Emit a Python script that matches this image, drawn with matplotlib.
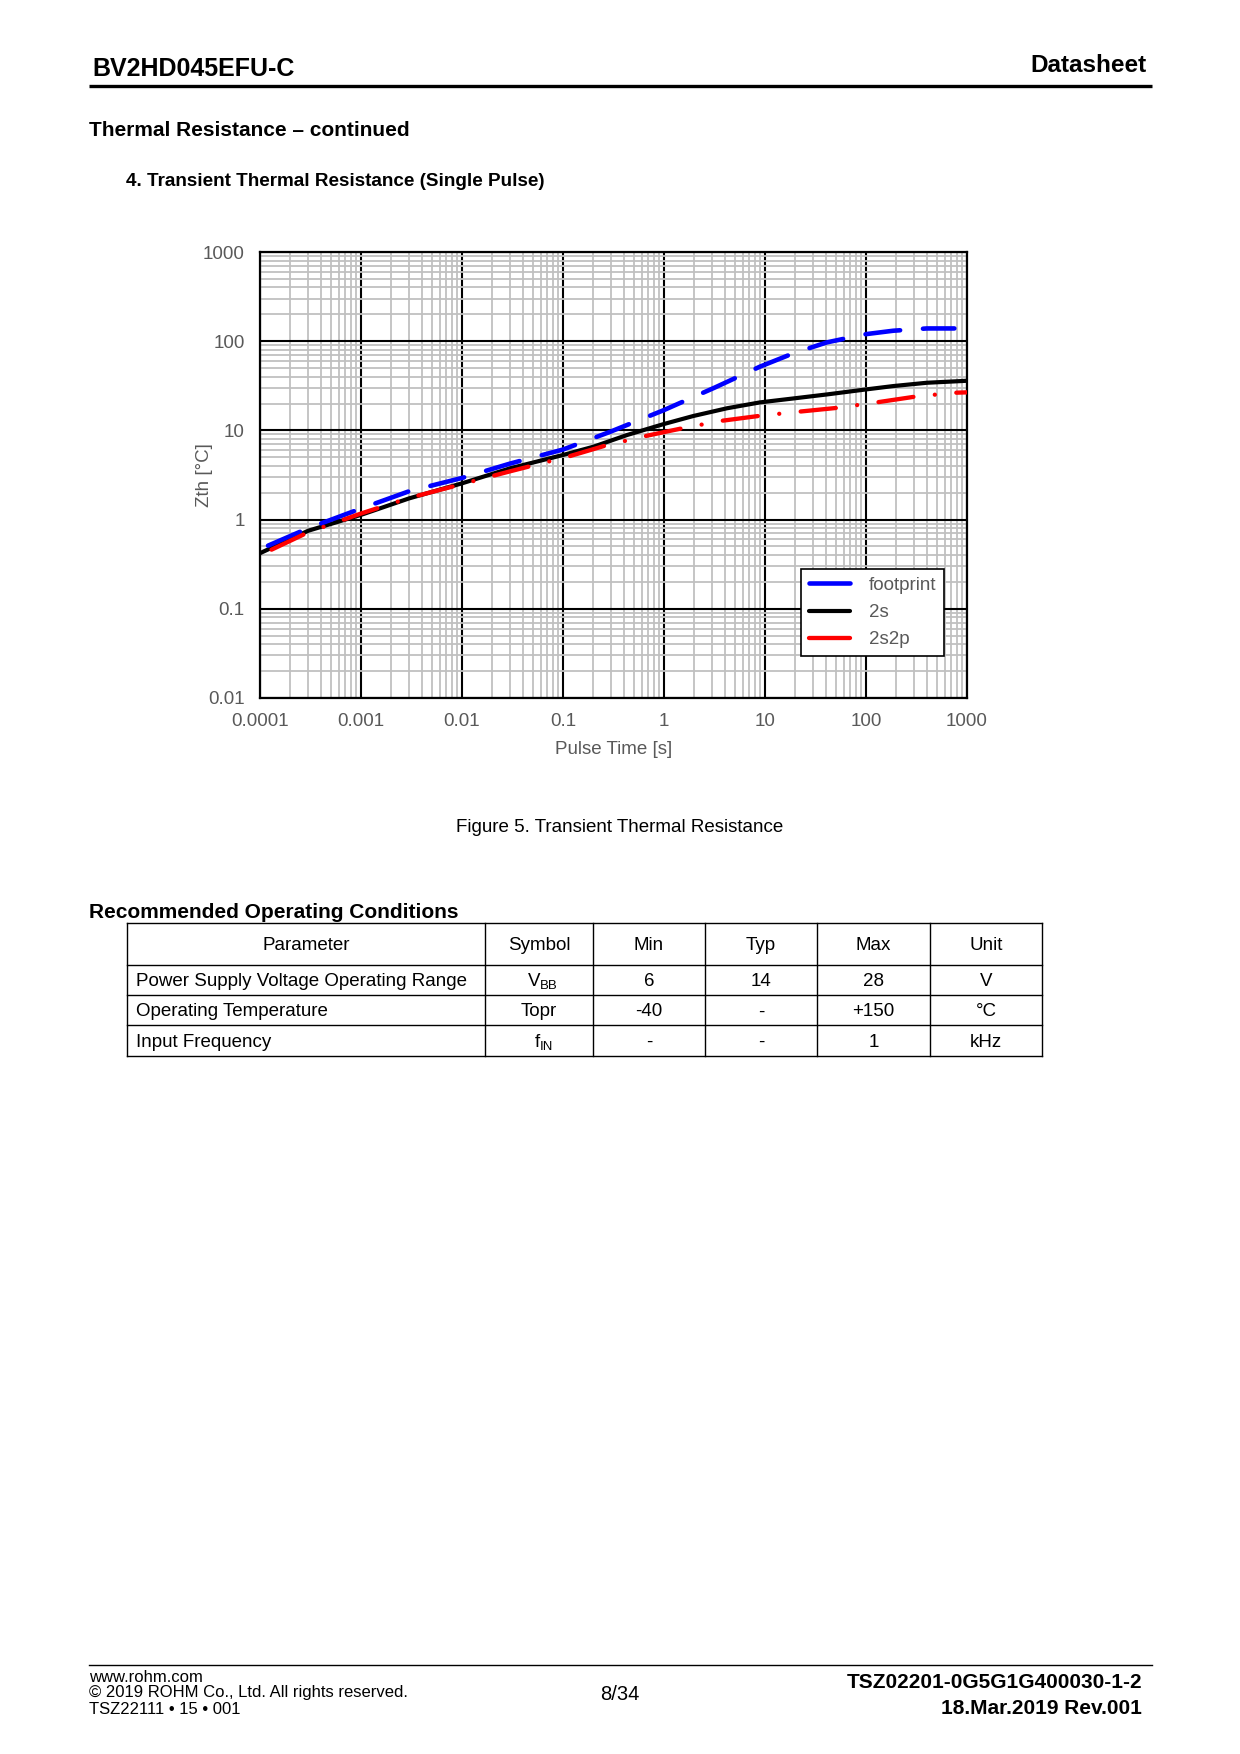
import numpy as np
import matplotlib.pyplot as plt
from matplotlib.lines import Line2D
from matplotlib.ticker import FixedLocator, LogLocator, NullFormatter

plt.rcParams['font.family'] = ['Liberation Sans', 'DejaVu Sans']

# --- chart data ---
t_2s = [1e-4, 3e-4, 1e-3, 3e-3, 1e-2, 3e-2, 0.1, 0.2, 0.43, 1, 1.95, 4.2, 8.9, 19, 41,
        100, 186, 400, 1000]
z_2s = [0.42, 0.75, 1.13, 1.73, 2.55, 3.76, 5.3, 6.56, 8.87, 11.8, 14.5, 17.7, 20.6, 22.8,
        25.3, 28.8, 31.4, 34.2, 36.0]

t_fp = [1.2e-4, 3e-4, 1e-3, 3e-3, 1e-2, 3e-2, 0.1, 0.29, 1, 3.2, 8.9, 19, 41, 100, 186,
        400, 750]
z_fp = [0.51, 0.80, 1.33, 2.08, 2.93, 4.25, 6.1, 9.6, 16.9, 30.3, 51.8, 73, 97, 120, 131,
        139, 139]

t_2s2p = [1.3e-4, 3e-4, 1e-3, 3e-3, 1e-2, 3e-2, 0.117, 0.26, 0.65, 1.48, 3.7, 8.6, 21.5,
          52, 127, 299, 735, 1000]
z_2s2p = [0.46, 0.72, 1.17, 1.75, 2.5, 3.48, 5.15, 6.73, 8.63, 10.5, 12.8, 14.5, 16.2,
          17.9, 20.6, 23.8, 26.4, 26.7]

x_ticks = [1e-4, 1e-3, 1e-2, 1e-1, 1, 10, 100, 1000]
x_labels = ['0.0001', '0.001', '0.01', '0.1', '1', '10', '100', '1000']
y_ticks = [0.01, 0.1, 1, 10, 100, 1000]
y_labels = ['0.01', '0.1', '1', '10', '100', '1000']

# --- table data ---
tbl_header = ['Parameter', 'Symbol', 'Min', 'Typ', 'Max', 'Unit']
tbl_param = ['Power Supply Voltage Operating Range', 'Operating Temperature', 'Input Frequency']
tbl_symbol = [('V', 'BB'), ('Topr', ''), ('f', 'IN')]
tbl_min = ['6', '-40', '-']
tbl_typ = ['14', '-', '-']
tbl_max = ['28', '+150', '1']
tbl_unit = ['V', '°C', 'kHz']

W, H = 1240, 1754
fig = plt.figure(figsize=(W / 100, H / 100), dpi=100)
fig.patch.set_facecolor('white')

# page layer in pixel coords
page = fig.add_axes([0, 0, 1, 1], zorder=0)
page.set_xlim(0, W)
page.set_ylim(H, 0)
page.axis('off')

page.text(92, 69, 'BV2HD045EFU-C', fontsize=18, fontweight='bold', va='center', ha='left')
page.text(1147, 66, 'Datasheet', fontsize=17.5, fontweight='bold', va='center', ha='right')
page.plot([89, 1152], [86, 86], color='black', lw=2.4, solid_capstyle='butt')

page.text(89, 131, 'Thermal Resistance – continued', fontsize=15, fontweight='bold', va='center')
page.text(126, 182, '4. Transient Thermal Resistance (Single Pulse)', fontsize=13.6,
          fontweight='bold', va='center')
page.text(620, 827, 'Figure 5. Transient Thermal Resistance', fontsize=13.5, va='center', ha='center')

# recommended operating conditions table
page.text(89, 912, 'Recommended Operating Conditions', fontsize=15, fontweight='bold', va='center')
col_x = [127, 485, 593, 705, 817, 930, 1042]
row_y = [923, 965, 995, 1025, 1056]
for x in col_x:
    page.plot([x, x], [row_y[0], row_y[-1]], color='black', lw=1.0)
for y in row_y:
    page.plot([col_x[0], col_x[-1]], [y, y], color='black', lw=1.0)

fs_tbl = 13.5
dy = 2
for j, h in enumerate(tbl_header):
    cx = (col_x[j] + col_x[j + 1]) / 2
    page.text(cx, (row_y[0] + row_y[1]) / 2 + dy, h, fontsize=fs_tbl, ha='center', va='center')

for i in range(len(tbl_param)):
    cy = (row_y[i + 1] + row_y[i + 2]) / 2 + dy
    page.text(col_x[0] + 9, cy, tbl_param[i], fontsize=fs_tbl, ha='left', va='center')
    main, sub = tbl_symbol[i]
    cx = (col_x[1] + col_x[2]) / 2
    if sub:
        page.text(cx + 1, cy, main, fontsize=fs_tbl, ha='right', va='center')
        page.text(cx + 1, cy + 4, sub, fontsize=9.5, ha='left', va='center')
    else:
        page.text(cx, cy, main, fontsize=fs_tbl, ha='center', va='center')
    for j, vals in enumerate([tbl_min, tbl_typ, tbl_max, tbl_unit]):
        cx = (col_x[j + 2] + col_x[j + 3]) / 2
        page.text(cx, cy, vals[i], fontsize=fs_tbl, ha='center', va='center')

# footer
page.plot([89, 1152], [1665, 1665], color='black', lw=1.0)
page.text(89, 1677, 'www.rohm.com', fontsize=12, va='center')
page.text(89, 1692, '© 2019 ROHM Co., Ltd. All rights reserved.', fontsize=12, va='center')
page.text(89, 1709, 'TSZ22111 • 15 • 001', fontsize=12, va='center')
page.text(620, 1695, '8/34', fontsize=14.5, ha='center', va='center')
page.text(1142, 1683, 'TSZ02201-0G5G1G400030-1-2', fontsize=15, fontweight='bold', ha='right', va='center')
page.text(1142, 1709, '18.Mar.2019 Rev.001', fontsize=15, fontweight='bold', ha='right', va='center')

# --- chart ---
ax = fig.add_axes([260 / W, 1 - 698 / H, 707 / W, 446 / H], zorder=1)
ax.set_xscale('log')
ax.set_yscale('log')
ax.set_xlim(1e-4, 1e3)
ax.set_ylim(1e-2, 1e3)

ax.xaxis.set_minor_locator(LogLocator(base=10, subs=np.arange(2, 10)))
ax.yaxis.set_minor_locator(LogLocator(base=10, subs=np.arange(2, 10)))
ax.xaxis.set_minor_formatter(NullFormatter())
ax.yaxis.set_minor_formatter(NullFormatter())
ax.xaxis.set_major_locator(FixedLocator(x_ticks))
ax.yaxis.set_major_locator(FixedLocator(y_ticks))
ax.set_xticklabels(x_labels)
ax.set_yticklabels(y_labels)

ax.grid(which='minor', color='#c0c0c0', lw=1.3)
ax.grid(which='major', color='black', lw=1.5)
ax.set_axisbelow(True)
ax.tick_params(which='both', length=0, labelsize=13.5, labelcolor='#595959')
ax.tick_params(axis='x', pad=11)
ax.tick_params(axis='y', pad=11)
for s in ax.spines.values():
    s.set_linewidth(1.6)
    s.set_color('black')

ax.set_xlabel('Pulse Time [s]', fontsize=13.5, color='#595959', labelpad=7.5)
ax.set_ylabel('Zth [°C]', fontsize=13.5, color='#595959')
ax.yaxis.set_label_coords(-0.066, 0.5)

ax.plot(t_2s, z_2s, color='black', lw=3.0, solid_capstyle='round', zorder=3)
ax.plot(t_fp, z_fp, color='#0000ff', lw=3.3, linestyle=(0, (7.6, 5.0)),
        dash_capstyle='round', zorder=4)
ax.plot(t_2s2p, z_2s2p, color='#ff0000', lw=3.1, linestyle=(0, (8.2, 5, 0.01, 5)),
        dash_capstyle='round', zorder=5)

handles = [
    Line2D([], [], color='#0000ff', lw=3.3, solid_capstyle='round'),
    Line2D([], [], color='black', lw=3.0, solid_capstyle='round'),
    Line2D([], [], color='#ff0000', lw=3.1, solid_capstyle='round'),
]
leg = ax.legend(handles, ['footprint', '2s', '2s2p'], loc='lower right',
                bbox_to_anchor=(944 / W, 1 - 656 / H), bbox_transform=fig.transFigure,
                borderaxespad=0, fontsize=13.5, frameon=True, fancybox=False, framealpha=1,
                edgecolor='black', handlelength=2.2, handletextpad=1.0,
                labelspacing=0.55, borderpad=0.4)
leg.get_frame().set_linewidth(1.2)
for txt in leg.get_texts():
    txt.set_color('#595959')

fig.savefig('out.png', dpi=100, facecolor='white')
